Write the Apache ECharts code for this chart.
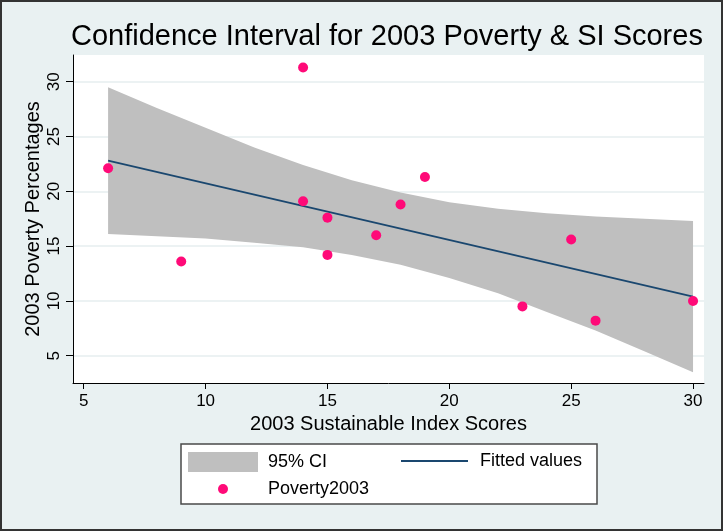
<!DOCTYPE html>
<html>
<head>
<meta charset="utf-8">
<script src="https://cdn.jsdelivr.net/npm/echarts@6/dist/echarts.min.js"></script>
<style>
  html, body { margin: 0; padding: 0; background: #e9f1f2; }
  #chart { width: 723px; height: 531px; }
</style>
</head>
<body>
<div id="chart"></div>
<script>
// 散点数据 (SI score, poverty %)
const siScores = [6, 9, 14, 14, 15, 15, 17, 18, 19, 23, 25, 26, 30];
const poverty = [22.1, 13.6, 31.3, 19.1, 17.6, 14.2, 16.0, 18.8, 21.3, 9.5, 15.6, 8.2, 10.0];

// fitted line end points
const fitX = [6, 30];
const fitY = [22.8, 10.4];

// 95% CI band
const ciX = [6, 8, 10, 12, 14, 16, 18, 20, 22, 24, 26, 28, 30];
const ciUpper = [29.5, 27.6, 25.8, 24.0, 22.4, 21.0, 19.9, 19.0, 18.4, 18.0, 17.7, 17.5, 17.3];
const ciLower = [16.1, 15.9, 15.7, 15.3, 14.9, 14.2, 13.3, 12.1, 10.7, 9.0, 7.3, 5.4, 3.5];

const xTicks = [5, 10, 15, 20, 25, 30];
const yTicks = [5, 10, 15, 20, 25, 30];

const font = "'Liberation Sans', Arial, sans-serif";

const option = {
  backgroundColor: "#e9f1f2",
  animation: false,
  title: {
    text: "Confidence Interval for 2003 Poverty & SI Scores",
    left: 71,
    top: 22,
    padding: 0,
    textStyle: {
      fontFamily: font,
      fontSize: 29,
      fontWeight: "normal",
      color: "#000",
    },
  },
  grid: {
    left: 73,
    right: 19,
    top: 55,
    bottom: 148,
    show: true,
    backgroundColor: "#fff",
    borderWidth: 0,
  },
  legend: [
    {
      data: [{ name: "95% CI", icon: "rect" }],
      left: 188,
      top: 452,
      padding: 0,
      itemWidth: 70,
      itemHeight: 20,
      selectedMode: false,
      textStyle: { fontFamily: font, fontSize: 18, color: "#000", padding: [0, 0, 0, 5] },
    },
    {
      // plain line icon, no marker
      data: [{ name: "Fitted values", icon: "rect", itemStyle: { color: "#1a476f" } }],
      left: 401,
      top: 452,
      padding: 0,
      itemWidth: 67,
      itemHeight: 2,
      selectedMode: false,
      textStyle: { fontFamily: font, fontSize: 18, color: "#000", padding: [0, 0, 0, 7] },
    },
    {
      data: ["Poverty2003"],
      left: 218,
      top: 480,
      padding: 0,
      itemWidth: 70,
      itemHeight: 10,
      selectedMode: false,
      textStyle: { fontFamily: font, fontSize: 18, color: "#000", padding: [0, 0, 0, 5] },
    },
  ],
  graphic: [
    {
      type: "rect",
      z: 1,
      shape: { x: 181, y: 444, width: 416, height: 60 },
      style: { fill: "#fff", stroke: "#4a4a4a", lineWidth: 1.5 },
    },
    {
      type: "rect",
      z: 1,
      shape: { x: 1, y: 1, width: 721, height: 529 },
      style: { fill: null, stroke: "#333", lineWidth: 2 },
    },
  ],
  xAxis: {
    type: "value",
    min: 4.56,
    max: 30.45,
    name: "2003 Sustainable Index Scores",
    nameLocation: "middle",
    nameGap: 31,
    nameMoveOverlap: false,
    nameTextStyle: { fontFamily: font, fontSize: 20, color: "#000" },
    axisLine: { lineStyle: { color: "#000", width: 1 } },
    axisTick: { show: true, length: 6, customValues: xTicks, lineStyle: { color: "#000" } },
    axisLabel: {
      customValues: xTicks,
      fontFamily: font,
      fontSize: 17,
      color: "#000",
      margin: 10,
    },
    splitLine: { show: false },
  },
  yAxis: {
    type: "value",
    min: 2.51,
    max: 32.44,
    name: "2003 Poverty Percentages",
    nameLocation: "middle",
    nameGap: 30,
    nameMoveOverlap: false,
    nameTextStyle: { fontFamily: font, fontSize: 20, color: "#000" },
    axisLine: { show: true, lineStyle: { color: "#000", width: 1 } },
    axisTick: { show: true, length: 7, customValues: yTicks, lineStyle: { color: "#000" } },
    axisLabel: {
      customValues: yTicks,
      rotate: 90,
      fontFamily: font,
      fontSize: 17,
      color: "#000",
      margin: 10,
    },
    splitLine: { show: true, lineStyle: { color: "#e6eeef", width: 1.5 } },
  },
  series: [
    {
      name: "95% CI",
      type: "custom",
      z: 2,
      silent: true,
      itemStyle: { color: "#bfbfbf" },
      data: [0],
      renderItem: function (params, api) {
        const pts = [];
        for (let i = 0; i < ciX.length; i++) pts.push(api.coord([ciX[i], ciUpper[i]]));
        for (let i = ciX.length - 1; i >= 0; i--) pts.push(api.coord([ciX[i], ciLower[i]]));
        return {
          type: "polygon",
          shape: { points: pts },
          style: { fill: "#bfbfbf" },
        };
      },
    },
    {
      name: "Fitted values",
      type: "line",
      z: 3,
      symbol: "none",
      lineStyle: { color: "#1a476f", width: 1.8 },
      itemStyle: { color: "#1a476f" },
      data: fitX.map((x, i) => [x, fitY[i]]),
    },
    {
      name: "Poverty2003",
      type: "scatter",
      z: 4,
      symbolSize: 10,
      itemStyle: { color: "#ff0a78", opacity: 1 },
      data: siScores.map((x, i) => [x, poverty[i]]),
    },
  ],
};

const mychart = echarts.init(document.getElementById("chart"), null, { renderer: "canvas" });
mychart.setOption(option);
</script>
</body>
</html>
